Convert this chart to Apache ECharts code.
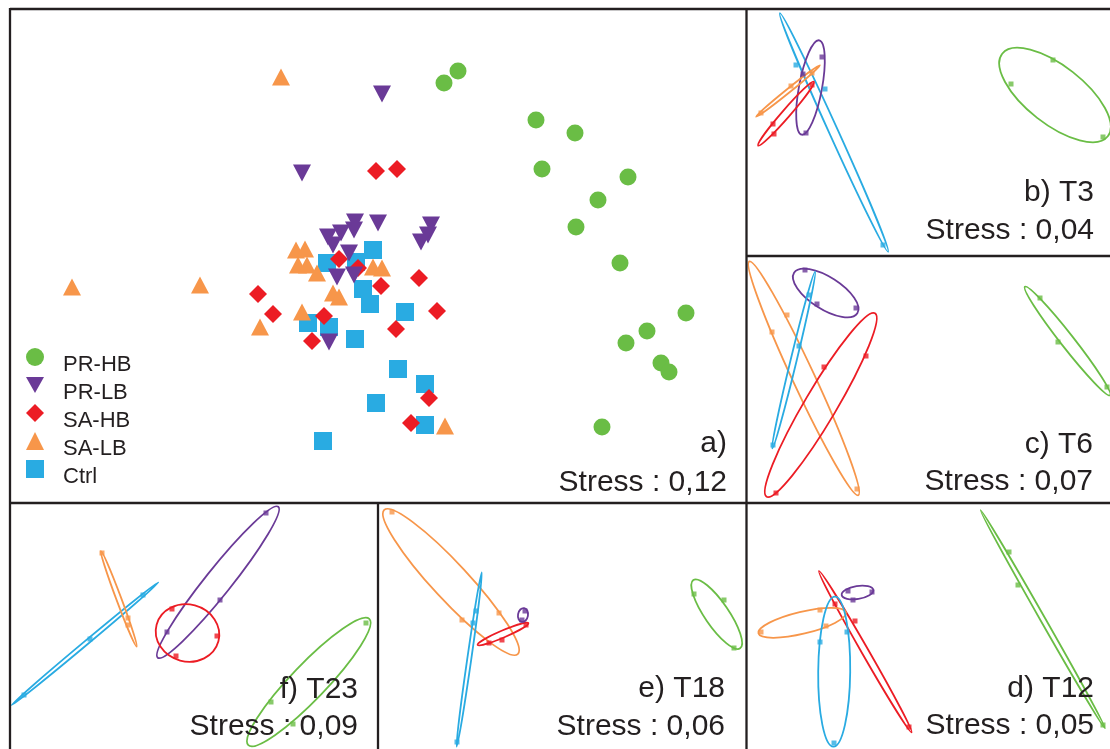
<!DOCTYPE html>
<html><head><meta charset="utf-8">
<script src="https://cdn.jsdelivr.net/npm/echarts@6/dist/echarts.min.js"></script>
<style>html,body{margin:0;padding:0;background:#fff}#c{width:1110px;height:749px}</style>
</head><body><div id="c"></div>
<script>
// ---------- DATA ----------
const groups = ['PR-HB', 'PR-LB', 'SA-HB', 'SA-LB', 'Ctrl'];

// Panel a) : NMDS coordinates of all samples [NMDS1, NMDS2]
const prHB = [[0.80,1.85],[0.66,1.73],[1.58,1.36],[1.97,1.23],[1.64,0.87],[2.50,0.79],[2.20,0.56],[1.98,0.29],[2.42,-0.07],[3.08,-0.57],[2.69,-0.75],[2.48,-0.87],[2.83,-1.07],[2.91,-1.16],[2.24,-1.71]];
const prLB = [[0.04,1.62],[-0.76,0.83],[-0.23,0.34],[-0.24,0.26],[0.00,0.33],[0.53,0.31],[0.50,0.21],[0.43,0.14],[-0.50,0.19],[-0.37,0.23],[-0.45,0.11],[-0.29,0.03],[-0.41,-0.21],[-0.24,-0.19],[-0.49,-0.86]];
const saHB = [[-0.02,0.85],[0.19,0.87],[-0.39,-0.03],[-0.20,-0.12],[0.03,-0.30],[0.41,-0.22],[-1.20,-0.38],[-1.05,-0.58],[-0.54,-0.60],[0.59,-0.55],[0.18,-0.73],[-0.66,-0.85],[0.51,-1.42],[0.33,-1.67]];
const saLB = [[-0.97,1.79],[-3.06,-0.31],[-1.78,-0.29],[-0.82,0.06],[-0.73,0.07],[-0.80,-0.09],[-0.71,-0.09],[-0.61,-0.17],[-0.05,-0.11],[0.04,-0.12],[-0.45,-0.37],[-0.39,-0.41],[-0.76,-0.56],[-1.18,-0.71],[0.67,-1.70]];
const ctrl = [[-0.05,0.06],[-0.51,-0.07],[-0.22,-0.06],[-0.15,-0.33],[-0.08,-0.48],[0.27,-0.56],[-0.70,-0.67],[-0.49,-0.71],[-0.23,-0.83],[0.20,-1.13],[0.47,-1.28],[-0.02,-1.47],[0.47,-1.69],[-0.55,-1.85]];

// Per-date panels: ellipses [centre x, centre y, semi-axis a, semi-axis b, angle deg, group index]
// and replicate points [x, y, group index]
const t3Ellipses = [[0.88,1.235,1.31,0.045,-65.6,4],[0.645,1.685,0.48,0.115,79.5,1],[0.42,1.65,0.41,0.02,38.9,3],[0.40,1.423,0.424,0.04,49,2],[3.09,1.61,0.67,0.29,-38,0]];
const t3Points = [[0.50,1.91,4],[0.79,1.67,4],[1.37,0.11,4],[0.76,1.99,1],[0.60,1.23,1],[0.57,1.82,1],[0.15,1.43,3],[0.45,1.70,3],[0.66,1.83,3],[0.27,1.32,2],[0.28,1.22,2],[0.66,1.71,2],[3.07,1.96,0],[2.65,1.72,0],[3.57,1.19,0]];

const t6Ellipses = [[0.578,1.247,1.29,0.11,-65,3],[0.797,2.10,0.376,0.16,-32.7,1],[0.477,1.43,0.91,0.03,76.4,4],[0.748,0.98,1.065,0.16,59.4,2],[3.215,1.62,0.69,0.066,-51.9,0]];
const t6Points = [[0.26,1.71,3],[0.41,1.88,3],[1.11,0.14,3],[0.59,2.33,1],[0.71,1.99,1],[1.10,1.95,1],[0.63,2.08,4],[0.53,1.57,4],[0.27,0.58,4],[0.78,1.36,2],[1.20,1.47,2],[0.30,0.10,2],[2.94,2.05,0],[3.12,1.61,0],[3.61,1.16,0]];

const t12Ellipses = [[2.968,1.298,1.256,0.025,-60.3,0],[1.193,0.973,0.93,0.035,-60.1,2],[1.115,1.565,0.16,0.065,9,1],[0.562,1.262,0.45,0.11,13.5,3],[0.882,0.773,0.75,0.16,89.4,4]];
const t12Points = [[2.63,1.97,0],[2.72,1.64,0],[3.57,0.24,0],[0.89,1.45,2],[1.09,1.28,2],[1.63,0.22,2],[1.02,1.58,1],[1.07,1.49,1],[1.26,1.57,1],[0.15,1.17,3],[0.74,1.39,3],[0.80,1.23,3],[0.74,1.07,4],[1.01,1.17,4],[0.88,0.06,4]];

const t18Ellipses = [[0.73,1.67,0.983,0.18,-47.2,3],[0.912,0.895,0.88,0.02,81.8,4],[1.25,1.15,0.276,0.035,23.2,2],[1.45,1.34,0.07,0.05,80,1],[3.387,1.348,0.414,0.12,-55.6,0]];
const t18Points = [[0.14,2.37,3],[0.84,1.29,3],[1.21,1.36,3],[0.98,1.38,4],[0.95,1.26,4],[0.79,0.07,4],[1.24,1.09,2],[1.48,1.24,2],[1.11,1.06,2],[1.44,1.29,1],[1.47,1.38,1],[3.16,1.55,0],[3.46,1.49,0],[3.56,1.01,0]];

const t23Ellipses = [[0.75,1.053,0.956,0.02,39.9,4],[1.088,1.502,0.51,0.025,-69.5,3],[2.08,1.668,0.966,0.13,51.4,1],[1.775,1.16,0.32,0.285,-15,2],[2.988,0.67,0.874,0.175,46.2,0]];
const t23Points = [[0.14,0.54,4],[0.80,1.10,4],[1.33,1.54,4],[1.18,1.31,3],[1.18,1.24,3],[0.92,1.96,3],[2.56,2.36,1],[2.10,1.49,1],[1.57,1.17,1],[1.62,1.40,2],[2.07,1.13,2],[1.66,0.93,2],[3.56,1.26,0],[2.61,0.47,0],[2.83,0.25,0]];

const panelTitles = ['a)', 'b) T3', 'c) T6', 'd) T12', 'e) T18', 'f) T23'];
const stressValues = ['0,12', '0,04', '0,07', '0,05', '0,06', '0,09'];

// ---------- STYLE / LAYOUT ----------
const colors = ['#6abd45', '#6a3a97', '#ec1c24', '#f7964a', '#29abe2'];
const symbols = ['circle', 'path://M0,0L20,0L10,18Z', 'diamond', 'triangle', 'rect'];
const symbolSizes = [17, [18,17], 18, [18,17], 18];
const ink = '#231f20';
const FONT = '"Liberation Sans", Arial, sans-serif';

// grid geometry (px) and axis ranges (1 unit = 100 px on both axes)
const panels = [
  {left:10, top:9, width:736.5, height:494, x:[-3.68,3.685], y:[-2.47,2.47]},
  {left:746, top:9, width:364, height:247, x:[0,3.64], y:[0,2.47]},
  {left:746, top:256, width:364, height:247, x:[0,3.64], y:[0,2.47]},
  {left:746, top:503, width:364, height:246, x:[0,3.64], y:[0,2.46]},
  {left:378, top:503, width:368, height:246, x:[0,3.68], y:[0,2.46]},
  {left:10, top:503, width:368, height:246, x:[0,3.68], y:[0,2.46]}
];
const labelPos = [
  {x:727, y1:443.5, y2:482.5},
  {x:1094, y1:192.5, y2:230.5},
  {x:1093, y1:444.5, y2:481.5},
  {x:1094, y1:688.5, y2:725.5},
  {x:725, y1:688.5, y2:726.5},
  {x:358, y1:689.5, y2:726.5}
];

const grid = panels.map(p => ({left:p.left, top:p.top, width:p.width, height:p.height, show:false}));
const xAxis = panels.map((p,i) => ({type:'value', gridIndex:i, min:p.x[0], max:p.x[1], show:false}));
const yAxis = panels.map((p,i) => ({type:'value', gridIndex:i, min:p.y[0], max:p.y[1], show:false}));

const series = [];
const groupData = [prHB, prLB, saHB, saLB, ctrl];
[4,3,2,1,0].forEach(g => {
  series.push({
    type:'scatter', name:groups[g], xAxisIndex:0, yAxisIndex:0,
    data:groupData[g], symbol:symbols[g], symbolSize:symbolSizes[g],
    itemStyle:{color:colors[g], opacity:1}, silent:true
  });
});

function ellipseSeries(gi, data) {
  return {
    type:'custom', xAxisIndex:gi, yAxisIndex:gi, clip:true, silent:true, data:data,
    renderItem: function(params, api) {
      const c = api.coord([api.value(0), api.value(1)]);
      const s = api.size([api.value(2), api.value(3)]);
      return {
        type:'ellipse', x:c[0], y:c[1], rotation: api.value(4) * Math.PI / 180,
        shape:{cx:0, cy:0, rx:s[0], ry:s[1]},
        style:{fill:'none', stroke:colors[api.value(5)], lineWidth:1.8}
      };
    }
  };
}
function pointSeries(gi, data) {
  return {
    type:'scatter', xAxisIndex:gi, yAxisIndex:gi, clip:true, silent:true, data:data,
    symbol:'rect', symbolSize:5,
    itemStyle:{color: p => colors[p.value[2]]}
  };
}
const small = [[t3Ellipses,t3Points],[t6Ellipses,t6Points],[t12Ellipses,t12Points],[t18Ellipses,t18Points],[t23Ellipses,t23Points]];
small.forEach((d,k) => {
  series.push(ellipseSeries(k+1, d[0]));
  series.push(pointSeries(k+1, d[1]));
});

const graphic = [];
const frame = [
  [10,9,1110,9],[10,8,10,749],[746.5,8,746.5,749],[10,503,1110,503],[746.5,256,1110,256],[378,503,378,749]
];
frame.forEach(l => graphic.push({type:'line', silent:true, z:100,
  shape:{x1:l[0], y1:l[1], x2:l[2], y2:l[3]}, style:{stroke:ink, lineWidth:2.3}}));
labelPos.forEach((p,i) => {
  graphic.push({type:'text', silent:true, z:101, x:p.x, y:p.y1,
    style:{text:panelTitles[i], font:'30px ' + FONT, fill:ink, align:'right', verticalAlign:'middle'}});
  graphic.push({type:'text', silent:true, z:101, x:p.x, y:p.y2,
    style:{text:'Stress : ' + stressValues[i], font:'30px ' + FONT, fill:ink, align:'right', verticalAlign:'middle'}});
});

const chart = echarts.init(document.getElementById('c'));
chart.setOption({
  animation:false,
  backgroundColor:'#fff',
  grid, xAxis, yAxis, series, graphic,
  legend:{
    orient:'vertical', left:21, top:333, padding:5, itemWidth:18, itemHeight:18, itemGap:-10,
    selectedMode:false,
    data: groups.map((g,i) => ({name:g, icon:symbols[i]})),
    formatter: '{t|{name}}',
    textStyle:{fontSize:22, fontFamily:FONT, color:ink,
      rich:{t:{fontSize:22, fontFamily:FONT, color:ink, lineHeight:22, padding:[16,0,0,14]}}}
  }
});
</script>
</body></html>
